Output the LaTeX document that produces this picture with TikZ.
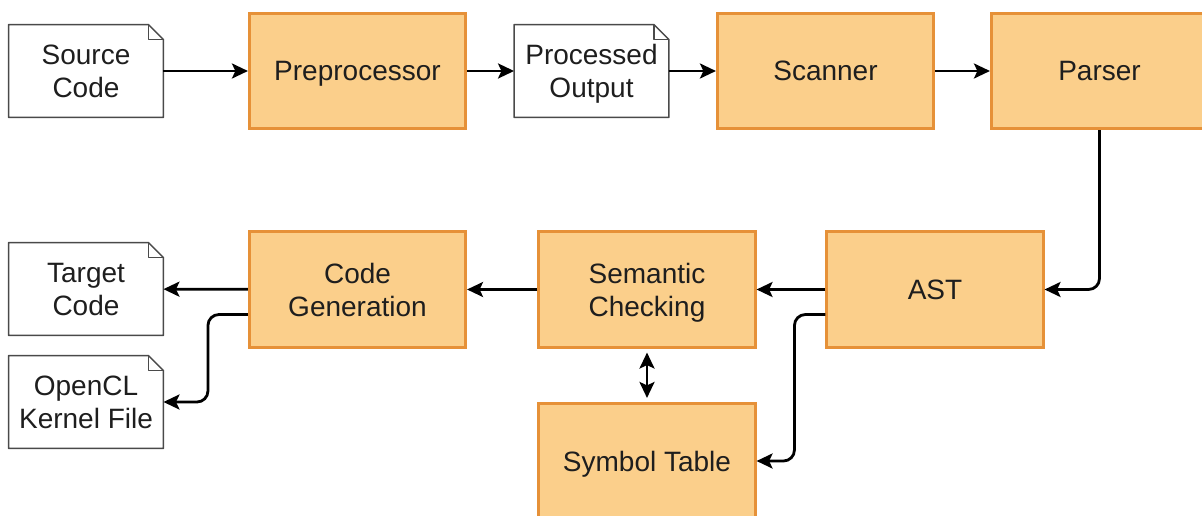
\documentclass[tikz,border=0pt]{standalone}
\usepackage{fontspec}
\setmainfont{Liberation Sans}
\usetikzlibrary{arrows.meta}

\definecolor{stagefill}{HTML}{FBCF8B}
\definecolor{stageline}{HTML}{E69138}
\definecolor{docline}{HTML}{4A4A4A}
\definecolor{labeltext}{HTML}{1E1E1E}

\tikzset{
  stage/.style={draw=stageline, fill=stagefill, line width=2.6pt,
    minimum width=216.5pt, minimum height=115.5pt, align=center,
    text depth=0pt, text=labeltext, font=\fontsize{28}{33}\selectfont},
  doc/.style={minimum width=154.5pt, minimum height=92.5pt, align=center,
    text depth=0pt, text=labeltext, font=\fontsize{28}{33}\selectfont},
  tip/.tip={Stealth[length=16pt,width=15pt,inset=3.5pt]},
  flow/.style={line width=2.8pt, -tip},
}

\begin{document}
\begin{tikzpicture}[x=1pt,y=-1pt]
\useasboundingbox (0,0) rectangle (1202,516);
\clip (0,0) rectangle (1202,516);

\node [doc] (src) at (86,71) {Source\\Code};
\node [stage] (prep) at (357.5,71) {Preprocessor};
\node [doc] (proc) at (591.5,71) {Processed\\Output};
\node [stage] (scan) at (825.5,71) {Scanner};
\node [stage] (pars) at (1099.5,71) {Parser};

\node [stage] (ast) at (935,289.5) {AST};
\node [stage] (sem) at (647,289.5) {Semantic\\Checking};
\node [stage] (gen) at (357.5,289.5) {Code\\Generation};
\node [doc] (tgt) at (86,289) {Target\\Code};
\node [doc] (ocl) at (86,402) {OpenCL\\Kernel File};
\node [stage] (sym) at (647,461) {Symbol Table};

% page outline with folded corner
\foreach \d in {src,proc,tgt,ocl} {
  \draw [docline, line width=1.5pt, line join=round]
    (\d.north west) -- ([xshift=-15pt]\d.north east)
    -- ([yshift=-15pt]\d.north east) -- (\d.south east)
    -- (\d.south west) -- cycle;
  \draw [docline, line width=1.5pt, line join=round]
    ([xshift=-15pt]\d.north east) |- ([yshift=-15pt]\d.north east);
}

\draw [flow] (src) -- (prep);
\draw [flow] (prep) -- (proc);
\draw [flow] (proc) -- (scan);
\draw [flow] (scan) -- (pars);
\draw [flow, rounded corners=11pt] (pars.south) |- (ast.east);
\draw [flow] (ast) -- (sem);
\draw [flow] (sem) -- (gen);
\draw [flow] (gen) -- (tgt);
\draw [flow, rounded corners=11pt] ([yshift=-25pt]gen.west) -- ++(-40,0) |- (ocl.east);
\draw [flow, rounded corners=11pt] ([yshift=-25pt]ast.west) -- ++(-31,0) |- (sym.east);
\draw [flow, tip-tip, shorten <=4pt, shorten >=4pt] (sem) -- (sym);
\end{tikzpicture}
\end{document}
